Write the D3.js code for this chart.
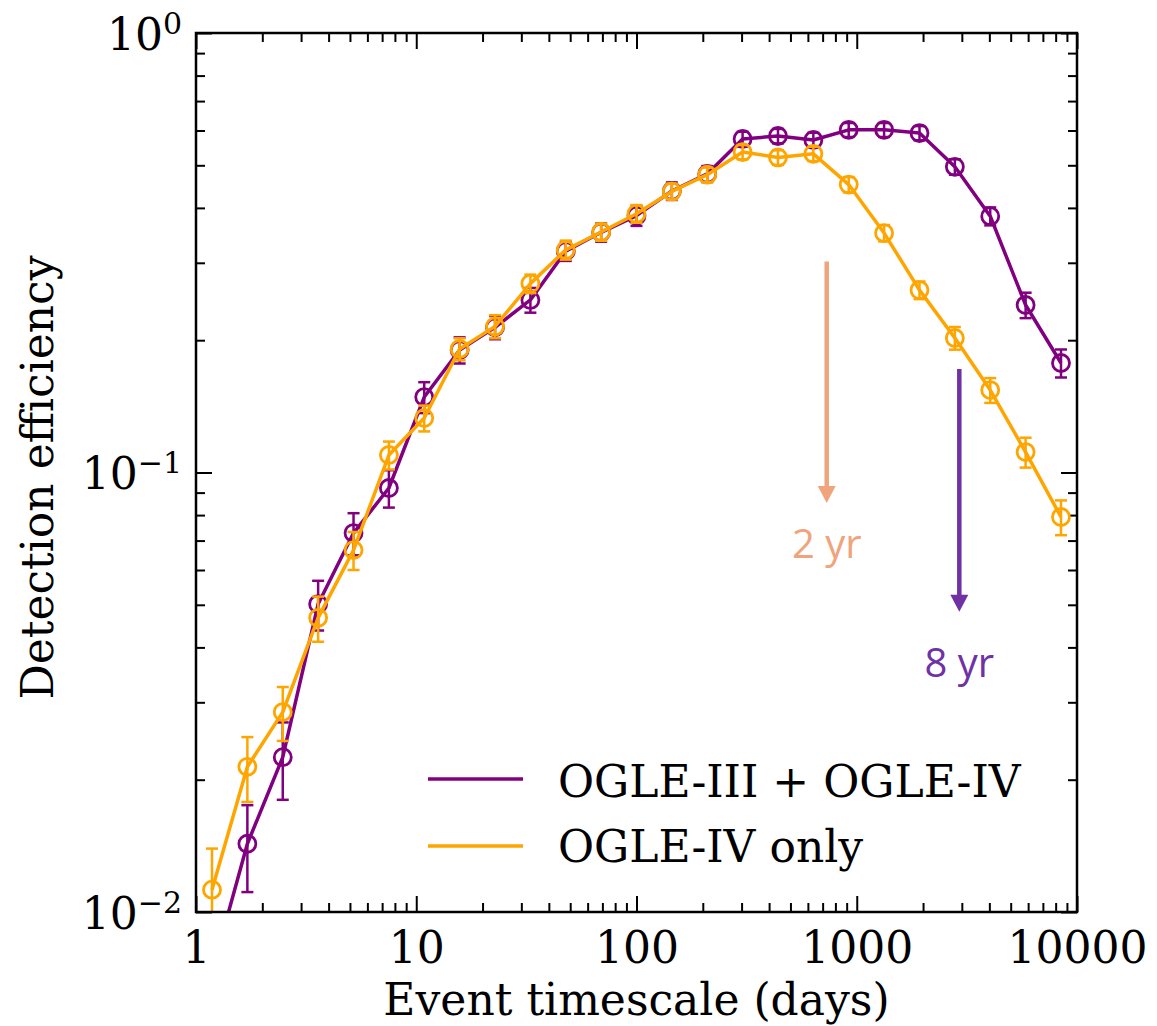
<!DOCTYPE html>
<html>
<head>
<meta charset="utf-8">
<script src="https://cdn.jsdelivr.net/npm/d3@7"></script>
<style>
  html, body { margin: 0; padding: 0; background: #ffffff; }
  svg { display: block; }
</style>
</head>
<body>
<svg id="chart" width="1157" height="1026"></svg>
<script>
// Event timescale bin centres (days)
const days = [1.182, 1.711, 2.477, 3.585, 5.191, 7.513, 10.87, 15.74, 22.79, 32.98,
              47.74, 69.10, 100.0, 144.7, 209.5, 303.2, 438.9, 635.3, 919.5, 1331,
              1927, 2789, 4037, 5844, 8459];

// Detection efficiency, OGLE-III + OGLE-IV
const effCombined = [0.0073, 0.0143, 0.0225, 0.0502, 0.0728, 0.0922, 0.1485, 0.190, 0.214, 0.247,
                     0.319, 0.352, 0.384, 0.437, 0.478, 0.574, 0.583, 0.571, 0.602, 0.602,
                     0.592, 0.496, 0.383, 0.2405, 0.1775];
const errCombined = [0.002, 0.0032, 0.0045, 0.0065, 0.008, 0.009, 0.012, 0.013, 0.013, 0.016,
                     0.016, 0.017, 0.020, 0.020, 0.020, 0.022, 0.022, 0.022, 0.022, 0.022,
                     0.022, 0.020, 0.018, 0.016, 0.013];

// Detection efficiency, OGLE-IV only
const effOgle4 = [0.01124, 0.0214, 0.0285, 0.0467, 0.0666, 0.1096, 0.133, 0.191, 0.215, 0.269,
                  0.321, 0.3525, 0.388, 0.436, 0.476, 0.536, 0.521, 0.531, 0.452, 0.3506,
                  0.260, 0.2023, 0.154, 0.1113, 0.0792];
const errOgle4 = [0.0027, 0.0036, 0.004, 0.0055, 0.0066, 0.008, 0.009, 0.011, 0.013, 0.013,
                  0.016, 0.016, 0.018, 0.018, 0.018, 0.020, 0.020, 0.020, 0.018, 0.015,
                  0.012, 0.012, 0.010, 0.0087, 0.0072];

const seriesNames = ["OGLE-III + OGLE-IV", "OGLE-IV only"];
const seriesColors = ["#800080", "#ffa500"];

// Survey-baseline markers
const baselineLabels = ["2 yr", "8 yr"];
const baselineDays = [2 * 365.25, 8 * 365.25];
const baselineFrom = [0.302, 0.172];
const baselineTo = [0.0852, 0.0482];
const baselineTextAt = [0.0639, 0.0343];
const baselineColors = ["#f0a47c", "#6f31a3"];

const xMajorTicks = [1, 10, 100, 1000, 10000];
const xTickLabels = ["1", "10", "100", "1000", "10000"];
const yMajorTicks = [0.01, 0.1, 1];
const yTickExponents = ["\u22122", "\u22121", "0"];

const serif = "'DejaVu Serif', serif";
const sans = "'Open Sans', 'Noto Sans', sans-serif";

const svg = d3.select("#chart");
const W = 1157, H = 1026;
const L = 196, R = 1077, T = 33, B = 912;

svg.append("rect").attr("width", W).attr("height", H).attr("fill", "#fff");

const x = d3.scaleLog().domain([1, 10000]).range([L, R]);
const y = d3.scaleLog().domain([0.01, 1]).range([B, T]);

const isMajor = v => Math.abs(Math.log10(v) - Math.round(Math.log10(v))) < 1e-9;
const xMinor = x.ticks().filter(v => !isMajor(v));
const yMinor = y.ticks().filter(v => !isMajor(v));

const MAJ = 16, MIN = 9;

function styleTicks(g) {
  g.select(".domain").remove();
  g.selectAll(".tick line").attr("stroke", "#000").attr("stroke-width", 2);
}

// ---- ticks on all four sides, pointing inward ----
const axes = svg.append("g");
// bottom
axes.append("g").attr("transform", `translate(0,${B})`)
  .call(d3.axisBottom(x).tickValues(xMinor).tickSizeInner(-MIN).tickSizeOuter(0).tickFormat(""))
  .call(styleTicks);
const xAxisG = axes.append("g").attr("transform", `translate(0,${B})`)
  .call(d3.axisBottom(x).tickValues(xMajorTicks).tickSizeInner(-MAJ).tickSizeOuter(0)
        .tickPadding(20).tickFormat((d, i) => xTickLabels[i]))
  .call(styleTicks);
xAxisG.selectAll(".tick text")
  .attr("font-family", serif).attr("font-size", 44).attr("fill", "#000");
// top
axes.append("g").attr("transform", `translate(0,${T})`)
  .call(d3.axisTop(x).tickValues(xMinor).tickSizeInner(-MIN).tickSizeOuter(0).tickFormat(""))
  .call(styleTicks);
axes.append("g").attr("transform", `translate(0,${T})`)
  .call(d3.axisTop(x).tickValues(xMajorTicks).tickSizeInner(-MAJ).tickSizeOuter(0).tickFormat(""))
  .call(styleTicks);
// left
axes.append("g").attr("transform", `translate(${L},0)`)
  .call(d3.axisLeft(y).tickValues(yMinor).tickSizeInner(-MIN).tickSizeOuter(0).tickFormat(""))
  .call(styleTicks);
const yAxisG = axes.append("g").attr("transform", `translate(${L},0)`)
  .call(d3.axisLeft(y).tickValues(yMajorTicks).tickSizeInner(-MAJ).tickSizeOuter(0)
        .tickPadding(14).tickFormat(""))
  .call(styleTicks);
yAxisG.selectAll(".tick text").each(function(d, i) {
  const t = d3.select(this)
    .attr("font-family", serif).attr("font-size", 44).attr("fill", "#000")
    .attr("dy", null).attr("y", 16);
  t.append("tspan").text("10");
  t.append("tspan").attr("font-size", 30).attr("dy", -16).text(yTickExponents[i]);
});
// right
axes.append("g").attr("transform", `translate(${R},0)`)
  .call(d3.axisRight(y).tickValues(yMinor).tickSizeInner(-MIN).tickSizeOuter(0).tickFormat(""))
  .call(styleTicks);
axes.append("g").attr("transform", `translate(${R},0)`)
  .call(d3.axisRight(y).tickValues(yMajorTicks).tickSizeInner(-MAJ).tickSizeOuter(0).tickFormat(""))
  .call(styleTicks);

// ---- data ----
svg.append("defs").append("clipPath").attr("id", "plotClip")
  .append("rect").attr("x", L).attr("y", T).attr("width", R - L).attr("height", B - T);

const plot = svg.append("g").attr("clip-path", "url(#plotClip)");

const series = [
  { name: seriesNames[0], color: seriesColors[0], eff: effCombined, err: errCombined },
  { name: seriesNames[1], color: seriesColors[1], eff: effOgle4, err: errOgle4 }
];

const line = d3.line().x(d => x(d.t)).y(d => y(d.v));
const CAP = 6;

series.forEach(s => {
  const pts = days.map((t, i) => ({ t, v: s.eff[i], e: s.err[i] }));
  const lo = d => y(Math.max(d.v - d.e, 1e-4));
  const hi = d => y(d.v + d.e);
  const g = plot.append("g");
  g.append("path").datum(pts)
    .attr("d", line).attr("fill", "none")
    .attr("stroke", s.color).attr("stroke-width", 3.5).attr("stroke-linejoin", "round");
  const eb = g.selectAll(".eb").data(pts).join("g");
  eb.append("line")
    .attr("x1", d => x(d.t)).attr("x2", d => x(d.t))
    .attr("y1", lo).attr("y2", hi)
    .attr("stroke", s.color).attr("stroke-width", 2.5);
  eb.append("line")
    .attr("x1", d => x(d.t) - CAP).attr("x2", d => x(d.t) + CAP)
    .attr("y1", hi).attr("y2", hi)
    .attr("stroke", s.color).attr("stroke-width", 2.5);
  eb.append("line")
    .attr("x1", d => x(d.t) - CAP).attr("x2", d => x(d.t) + CAP)
    .attr("y1", lo).attr("y2", lo)
    .attr("stroke", s.color).attr("stroke-width", 2.5);
  g.selectAll("circle").data(pts).join("circle")
    .attr("cx", d => x(d.t)).attr("cy", d => y(d.v)).attr("r", 8.5)
    .attr("fill", "none").attr("stroke", s.color).attr("stroke-width", 2.8);
});

// ---- survey-baseline arrows ----
baselineLabels.forEach((lab, i) => {
  const cx = x(baselineDays[i]);
  const y0 = y(baselineFrom[i]), y1 = y(baselineTo[i]);
  const head = 17, hw = 9;
  svg.append("line")
    .attr("x1", cx).attr("x2", cx).attr("y1", y0).attr("y2", y1 - head + 1)
    .attr("stroke", baselineColors[i]).attr("stroke-width", 4.5);
  svg.append("path")
    .attr("d", `M${cx - hw},${y1 - head} L${cx + hw},${y1 - head} L${cx},${y1} Z`)
    .attr("fill", baselineColors[i]);
  svg.append("text")
    .attr("x", cx).attr("y", y(baselineTextAt[i]))
    .attr("text-anchor", "middle")
    .attr("font-family", sans).attr("font-size", 40)
    .attr("fill", baselineColors[i]).text(lab);
});

// ---- frame ----
svg.append("rect").attr("x", L).attr("y", T).attr("width", R - L).attr("height", B - T)
  .attr("fill", "none").attr("stroke", "#000").attr("stroke-width", 2.5);

// ---- legend ----
const legend = svg.append("g");
const legRows = [{ ly: 779, ty: 797 }, { ly: 846, ty: 862 }];
series.forEach((s, i) => {
  legend.append("line")
    .attr("x1", 428).attr("x2", 523).attr("y1", legRows[i].ly).attr("y2", legRows[i].ly)
    .attr("stroke", s.color).attr("stroke-width", 3.5);
  legend.append("text")
    .attr("x", 558).attr("y", legRows[i].ty)
    .attr("font-family", serif).attr("font-size", 44).attr("fill", "#000")
    .text(s.name);
});

// ---- axis titles ----
svg.append("text")
  .attr("x", (L + R) / 2).attr("y", 1015)
  .attr("text-anchor", "middle")
  .attr("font-family", serif).attr("font-size", 44).attr("fill", "#000")
  .text("Event timescale (days)");
svg.append("text")
  .attr("transform", `translate(53,${(T + B) / 2 + 5}) rotate(-90)`)
  .attr("text-anchor", "middle")
  .attr("font-family", serif).attr("font-size", 44).attr("fill", "#000")
  .text("Detection efficiency");
</script>
</body>
</html>
